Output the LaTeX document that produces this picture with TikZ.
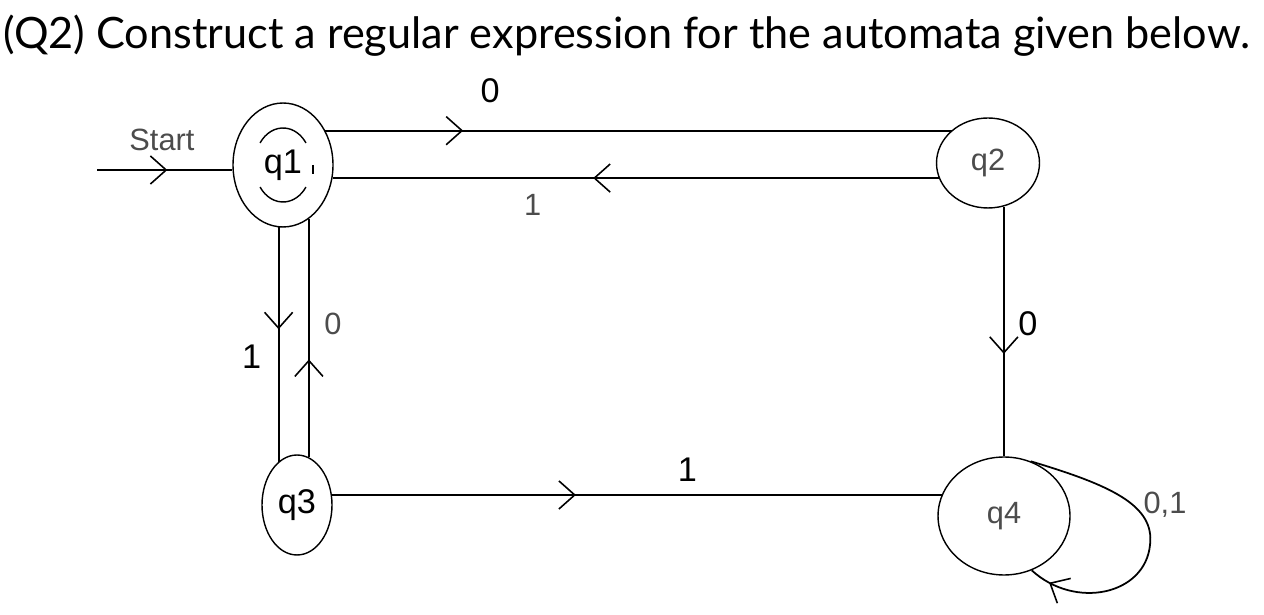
\documentclass[tikz,border=0pt]{standalone}
\usepackage{fontspec}
\setmainfont{Liberation Sans}
\newfontfamily\titlefont{Lato}
\usetikzlibrary{arrows.meta,shapes.geometric,decorations.markings}
\tikzset{%
  >={Straight Barb[length=9pt,width=16pt,line width=0.9pt]},
  % Specifications for style of nodes:
       state/.style = {ellipse, draw=black, line width=0.8pt, inner sep=0pt,
                       font=\fontsize{19.5}{22}\selectfont},
   statethin/.style = {state, text=black!70, font=\fontsize{17.5}{20}\selectfont},
     lblbold/.style = {font=\fontsize{19.5}{22}\selectfont, inner sep=0pt},
     lblthin/.style = {font=\fontsize{17.5}{20}\selectfont, inner sep=0pt, text=black!70},
        edge/.style = {line width=1pt},
     midarrow/.style = {edge, decoration={markings, mark=at position #1 with {\arrow{>}}},
                       postaction={decorate}},
}
\begin{document}
\begin{tikzpicture}[x=0.02cm, y=0.02cm]
  \useasboundingbox (0,0) rectangle (1264,615);
  % Title
  \node (title) [anchor=west, inner sep=0pt, font=\titlefont\fontsize{24.6}{29}\selectfont]
    at (3,579) {(Q2) Construct a regular expression for the automata given below.};

  % Specification of nodes (position, etc.)
  \node (q1) [state, minimum width=2cm, minimum height=2.48cm] at (283,450) {q1};
  \node (q2) [statethin, minimum width=2.06cm, minimum height=1.8cm] at (988,452) {q2};
  \node (q3) [state, minimum width=1.4cm, minimum height=2cm] at (297,110) {q3};
  \node (q4) [statethin, minimum width=2.64cm, minimum height=2.36cm] at (1004,99) {q4};
  \coordinate (start) at (97,445);

  % accepting marks of q1
  \draw[line width=0.8pt] (q1.center) ++(0,2) ++(145:28 and 35) arc[start angle=145, end angle=35, x radius=28, y radius=35];
  \draw[line width=0.8pt] (q1.center) ++(0,-2) ++(215:28 and 35) arc[start angle=215, end angle=325, x radius=28, y radius=35];
  \draw[line width=0.6pt] ([xshift=0.6cm]q1.center) -- ++(0,-9);

  % Specification of lines between nodes specified above
  \draw[midarrow=0.52] (start) -- node[lblthin, pos=0.48, yshift=0.6cm]{Start} (start -| q1.west);
  \draw[midarrow=0.22] (q1.39) -- node[lblbold, pos=0.263, yshift=0.8cm]{0} (q1.39 -| q2.138);
  \draw[midarrow=0.57] (q2.197) -- node[lblthin, pos=0.67, yshift=-0.54cm]{1} (q2.197 -| q1.-15);
  \draw[midarrow=0.435] (q1.266) -- node[lblbold, pos=0.55, xshift=-0.54cm]{1} (q1.266 |- q3.113);
  \draw[midarrow=0.41] (q3.76) -- node[lblthin, pos=0.56, xshift=0.48cm]{0} (q3.76 |- q1.296);
  \draw[midarrow=0.40] (q3.16) -- node[lblbold, pos=0.583, yshift=0.5cm]{1} (q3.16 -| q4.161);
  \draw[midarrow=0.59] (q2.290) -- node[lblbold, pos=0.47, xshift=0.48cm]{0} (q2.290 |- q4.north);
  \draw[midarrow=0.93] (q4.64) .. controls (1110,130) and (1155,110) .. (1150,70)
    .. controls (1145,20) and (1075,5) .. (q4.297);
  \node (lbl01) [lblthin] at (1165,110) {0,1};
\end{tikzpicture}
\end{document}
